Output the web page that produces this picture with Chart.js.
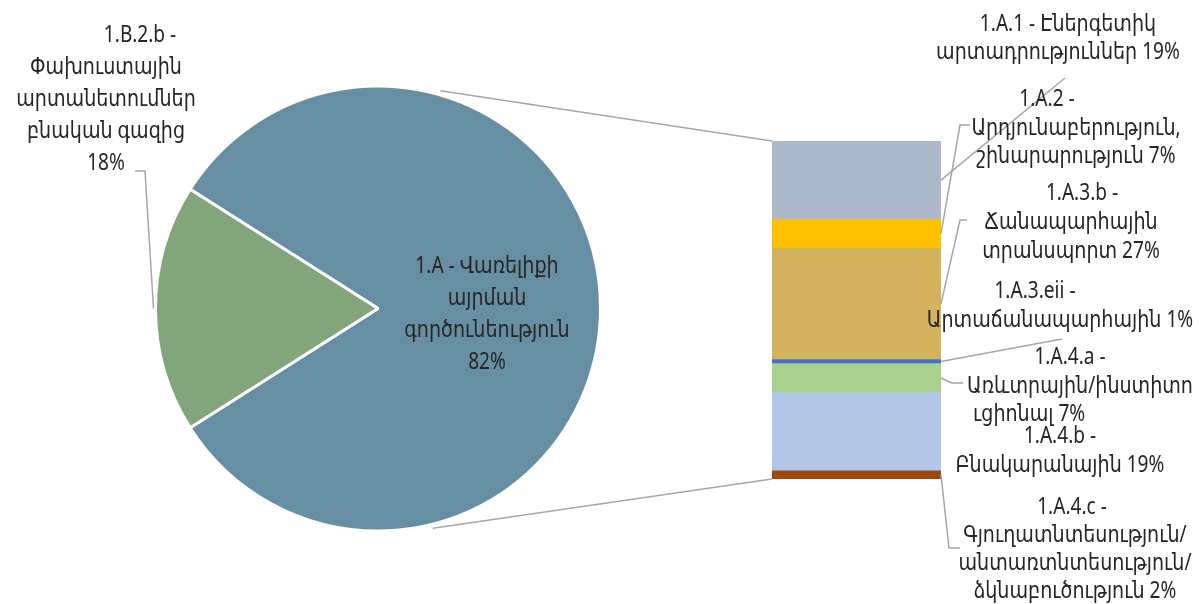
<!DOCTYPE html>
<html>
<head>
<meta charset="utf-8">
<script src="https://cdn.jsdelivr.net/npm/chart.js@4.4.0/dist/chart.umd.min.js"></script>
<style>
  html, body { margin: 0; padding: 0; background: #fff; }
  #wrap { position: relative; width: 1199px; height: 604px; }
  #wrap canvas { position: absolute; left: 0; top: 0; }
</style>
</head>
<body>
<div id="wrap">
  <canvas id="pieChart" width="1199" height="604"></canvas>
  <canvas id="barChart" width="1199" height="604"></canvas>
</div>
<script>
// 원형 차트 데이터 (전체 대비 %)
const pieLabels = [
  ['1.A - Վառելիքի', 'այրման', 'գործունեություն'],
  ['1.B.2.b -', 'Փախուստային', 'արտանետումներ', 'բնական գազից']
];
const pieValues = [82, 18];
const pieColors = ['#668fa3', '#82a57c'];

// 1.A 세부 막대 데이터 (위에서 아래 순서)
const barLabels = [
  ['1.A.1 - Էներգետիկ', 'արտադրություններ'],
  ['1.A.2 -', 'Արդյունաբերություն,', 'շինարարություն'],
  ['1.A.3.b -', 'Ճանապարհային', 'տրանսպորտ'],
  ['1.A.3.eii -', 'Արտաճանապարհային'],
  ['1.A.4.a -', 'Առևտրային/ինստիտո', 'ւցիոնալ'],
  ['1.A.4.b -', 'Բնակարանային'],
  ['1.A.4.c -', 'Գյուղատնտեսություն/', 'անտառտնտեսություն/', 'ձկնաբուծություն']
];
const barValues = [19, 7, 27, 1, 7, 19, 2];
const barColors = ['#adb8ca', '#ffc000', '#d4b35e', '#4472c4', '#a9d08e', '#b4c6e7', '#9e480e'];

const FONT = '23px "Noto Sans", "DejaVu Sans", sans-serif';
const FONT_SX = 0.83;   // 글자 가로 폭 축소
const TEXT = '#262626';
const LINE = '#a6a6a6';
const LH = 28;

// 라벨 배치: cx=중심 x, y=첫 줄 기준선, dx=줄별 보정, lead=지시선 꺾임점 (끝점은 조각/막대에서 계산)
const pieLayout = [
  { cx: 487, y: 273, lh: 32 },
  { cx: 106, y: 42, lh: 32, dx: [34], lead: [[135, 171], [145, 171]] }
];
const barLayout = [
  { cx: 1060, y: 31, dx: [8, -2], lead: [[1065, 78]] },
  { cx: 1076, y: 106, lh: 28.5, dx: [-29], lead: [[970, 125], [960, 125]] },
  { cx: 1071, y: 200, lh: 29, dx: [11], lead: [[967, 220], [960, 220]] },
  { cx: 1060, y: 298, lh: 29, dx: [-25], lead: [[1062, 339]] },
  { cx: 1080, y: 364, lh: 28.5, dx: [-10], leftLast: 973, lead: [[963, 383], [952, 383]] },
  { cx: 1060, y: 443, lh: 29 },
  { cx: 1075, y: 514, dx: [-3], lead: [[960, 548], [949, 548]] }
];

function drawLines(ctx, lines, box) {
  const lh = box.lh || LH;
  const dx = box.dx || [];
  ctx.save();
  ctx.font = FONT;
  ctx.fillStyle = TEXT;
  ctx.textBaseline = 'alphabetic';
  lines.forEach(function(t, i) {
    const y = box.y + i * lh;
    ctx.save();
    if (box.leftLast && i === lines.length - 1) {
      ctx.textAlign = 'left';
      ctx.translate(box.leftLast, y);
    } else {
      ctx.textAlign = 'center';
      ctx.translate(box.cx + (dx[i] || 0), y);
    }
    ctx.scale(FONT_SX, 1);
    ctx.fillText(t, 0, 0);
    ctx.restore();
  });
  ctx.restore();
}

function drawLead(ctx, pts, end) {
  ctx.save();
  ctx.strokeStyle = LINE;
  ctx.lineWidth = 1.5;
  ctx.beginPath();
  ctx.moveTo(pts[0][0], pts[0][1]);
  for (let i = 1; i < pts.length; i++) ctx.lineTo(pts[i][0], pts[i][1]);
  ctx.lineTo(end[0], end[1]);
  ctx.stroke();
  ctx.restore();
}

// 원형 차트 라벨
const pieLabelPlugin = {
  id: 'pieLabelPlugin',
  afterDatasetsDraw(chart) {
    const ctx = chart.ctx;
    const meta = chart.getDatasetMeta(0);
    meta.data.forEach(function(arc, i) {
      const box = pieLayout[i];
      const lines = pieLabels[i].concat([pieValues[i] + '%']);
      if (box.lead) {
        const mid = (arc.startAngle + arc.endAngle) / 2;
        drawLead(ctx, box.lead, [arc.x + Math.cos(mid) * (arc.outerRadius + 2), arc.y + Math.sin(mid) * (arc.outerRadius + 2)]);
      }
      drawLines(ctx, lines, box);
    });
  }
};

// 원형 차트: 작은 조각이 왼쪽 가운데 오도록 회전
let _pie = new Chart(document.getElementById('pieChart'), {
  type: 'pie',
  data: {
    labels: pieLabels.map(function(l) { return l.join(' '); }),
    datasets: [{
      data: pieValues,
      backgroundColor: pieColors,
      borderColor: '#ffffff',
      borderWidth: 3
    }]
  },
  options: {
    responsive: false,
    animation: false,
    rotation: 270 - 360 * (pieValues[0] + pieValues[1] / 2) / 100,
    layout: { padding: { left: 154, right: 597, top: 84, bottom: 71 } },
    plugins: { legend: { display: false }, tooltip: { enabled: false } }
  },
  plugins: [pieLabelPlugin]
});

// 막대 라벨 + 원형-막대 연결선
const barLabelPlugin = {
  id: 'barLabelPlugin',
  afterDatasetsDraw(chart) {
    const ctx = chart.ctx;
    const n = barValues.length;
    // 스택은 아래부터 쌓이므로 데이터셋 인덱스는 역순
    for (let i = 0; i < n; i++) {
      const el = chart.getDatasetMeta(n - 1 - i).data[0];
      const right = el.x + el.width / 2;
      const midY = (el.y + el.base) / 2;
      const box = barLayout[i];
      const last = barLabels[i].length - 1;
      if (box.lead) drawLead(ctx, box.lead, [right, midY]);
      drawLines(ctx, barLabels[i].slice(0, last).concat([barLabels[i][last] + ' ' + barValues[i] + '%']), box);
    }

    // 연결선
    const arc = _pie.getDatasetMeta(0).data[0];
    const area = chart.chartArea;
    const r = arc.outerRadius + 4;
    const a1 = -74 * Math.PI / 180, a2 = 76 * Math.PI / 180;
    ctx.save();
    ctx.strokeStyle = LINE;
    ctx.lineWidth = 1.5;
    ctx.beginPath();
    ctx.moveTo(arc.x + Math.cos(a1) * r, arc.y + Math.sin(a1) * r);
    ctx.lineTo(area.left, area.top);
    ctx.moveTo(arc.x + Math.cos(a2) * r, arc.y + Math.sin(a2) * r);
    ctx.lineTo(area.left, area.bottom);
    ctx.stroke();
    ctx.restore();
  }
};

const barTotal = barValues.reduce(function(a, b) { return a + b; }, 0);

new Chart(document.getElementById('barChart'), {
  type: 'bar',
  data: {
    labels: ['1.A'],
    datasets: barValues.map(function(v, i) {
      return {
        label: barLabels[i].join(' '),
        data: [v],
        backgroundColor: barColors[i],
        barPercentage: 1,
        categoryPercentage: 1
      };
    }).reverse()
  },
  options: {
    responsive: false,
    animation: false,
    layout: { padding: { left: 772, right: 258, top: 141, bottom: 125 } },
    scales: {
      x: { display: false, stacked: true },
      y: { display: false, stacked: true, min: 0, max: barTotal }
    },
    plugins: { legend: { display: false }, tooltip: { enabled: false } }
  },
  plugins: [barLabelPlugin]
});
</script>
</body>
</html>
